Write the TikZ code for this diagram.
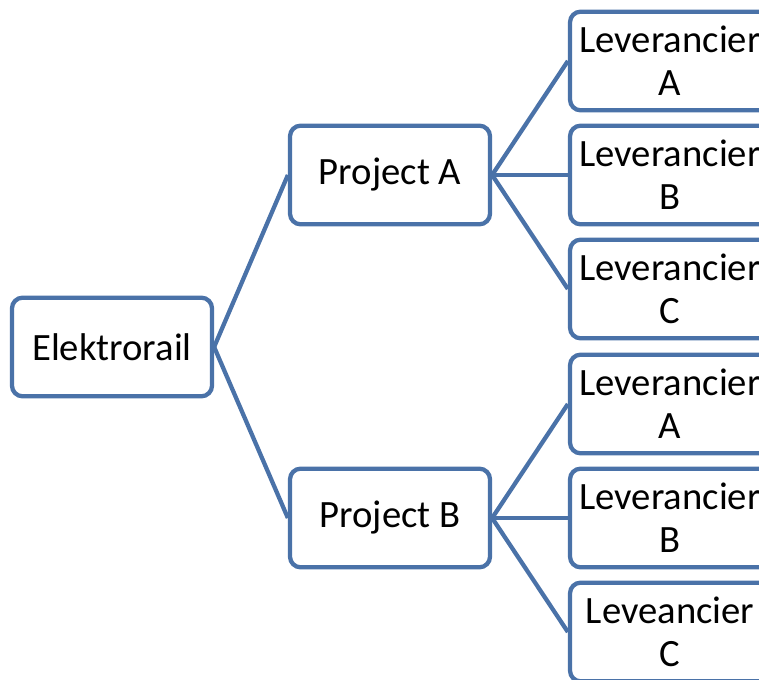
\documentclass[tikz,border=0pt]{standalone}
\usepackage{fontspec}
\setmainfont{Carlito}
\usetikzlibrary{positioning}
\definecolor{boxblue}{RGB}{74,114,168}

\begin{document}
\begin{tikzpicture}[
		x=0.75pt, y=-0.75pt,
		box/.style={draw=boxblue, line width=3.2pt, rounded corners=8pt, fill=white,
			minimum width=150pt, minimum height=74pt, inner sep=0pt,
			align=center, font=\fontsize{29}{32}\selectfont},
		leaf/.style={box, text width=150pt},
		link/.style={draw=boxblue, line width=3.2pt}
		]
		\useasboundingbox (0,0) rectangle (759,680);
		% root
		\node[box] (rail) at (112,347) {Elektrorail};
		% projects
		\node[box] (projA) at (390,175) {Project A};
		\node[box] (projB) at (390,518) {Project B};
		% suppliers
		\node[leaf] (levAa) at (670,61) {Leverancier\\A};
		\node[leaf] (levAb) at (670,175) {Leverancier\\B};
		\node[leaf] (levAc) at (670,289) {Leverancier\\C};
		\node[leaf] (levBa) at (670,404) {Leverancier\\A};
		\node[leaf] (levBb) at (670,518) {Leverancier\\B};
		\node[leaf] (levBc) at (670,632) {Leveancier\\C};

		\draw[link] (rail.east) -- (projA.west);
		\draw[link] (rail.east) -- (projB.west);
		\foreach \leaf in {levAa, levAb, levAc}
			\draw[link] (projA.east) -- (\leaf.west);
		\foreach \leaf in {levBa, levBb, levBc}
			\draw[link] (projB.east) -- (\leaf.west);
	\end{tikzpicture}
\end{document}
